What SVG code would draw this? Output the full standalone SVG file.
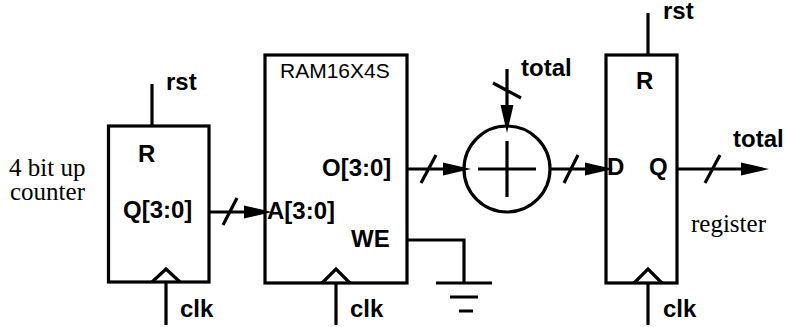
<svg xmlns="http://www.w3.org/2000/svg" width="785" height="327" viewBox="0 0 785 327">
<style>
.s{fill:none;stroke:#000;stroke-width:3.2}
.b{font:bold 24px "Liberation Sans",Arial,sans-serif;fill:#000}
.r{font:25px "Liberation Serif","Times New Roman",serif;fill:#000}
.a{fill:#000;stroke:none}
</style>
<defs>
<polygon id="ar" class="a" points="0,-6.500 28,0 0,6.500"/>
</defs>
<rect width="785" height="327" fill="#fff"/>
<g id="connectors">
<path class="s" d="M152 84V126M166 283V325M209 212H262M223 225L237 198"/>
<use href="#ar" x="244" y="212"/>
<path class="s" d="M336 283V325M407 169H460M421 183L436 155"/>
<use href="#ar" x="443" y="169"/>
<path class="s" d="M507 69V120M493 83L521 98"/>
<use href="#ar" transform="translate(507 105) rotate(90)"/>
<path class="s" d="M550 169H600M564 183L578 155"/>
<use href="#ar" x="585" y="169"/>
<path class="s" d="M677 169H745M705 183L720 155"/>
<use href="#ar" x="741" y="169"/>
<path class="s" d="M648 13V55M648 283V325"/>
<path class="s" d="M407 240H464V283M436 283H492M450 297H478M459 311H473"/>
</g>
<g id="counter">
<rect class="s" x="108.500" y="126" width="100.500" height="156"/>
<path class="s" d="M152 282L166 269L180 282"/>
<text class="b" x="138" y="162">R</text>
<text class="b" x="123" y="218">Q[3:0]</text>
<text class="r" x="9" y="176">4 bit up</text>
<text class="r" x="10" y="200">counter</text>
<text class="b" x="166" y="90">rst</text>
<text class="b" x="180" y="317">clk</text>
</g>
<g id="ram">
<rect class="s" x="265" y="55" width="142" height="228"/>
<path class="s" d="M322 283L336 269L350 283"/>
<text x="280" y="78" font-family="Liberation Sans,Arial,sans-serif" font-size="21">RAM16X4S</text>
<text class="b" x="322" y="176">O[3:0]</text>
<text class="b" x="267" y="219">A[3:0]</text>
<text class="b" x="351" y="247">WE</text>
<text class="b" x="350" y="317">clk</text>
</g>
<g id="adder">
<circle class="s" cx="507" cy="169" r="43"/>
<path class="s" d="M478 169H536M507 141V197"/>
<text class="b" x="521" y="76">total</text>
</g>
<g id="register">
<rect class="s" x="606" y="55" width="71" height="228"/>
<path class="s" d="M634 283L648 269L662 283"/>
<text class="b" x="636" y="89">R</text>
<text class="b" x="607" y="175">D</text>
<text class="b" x="649" y="175">Q</text>
<text class="b" x="663" y="19">rst</text>
<text class="b" x="733" y="147">total</text>
<text class="b" x="663" y="317">clk</text>
<text class="r" x="691" y="232">register</text>
</g>
</svg>
